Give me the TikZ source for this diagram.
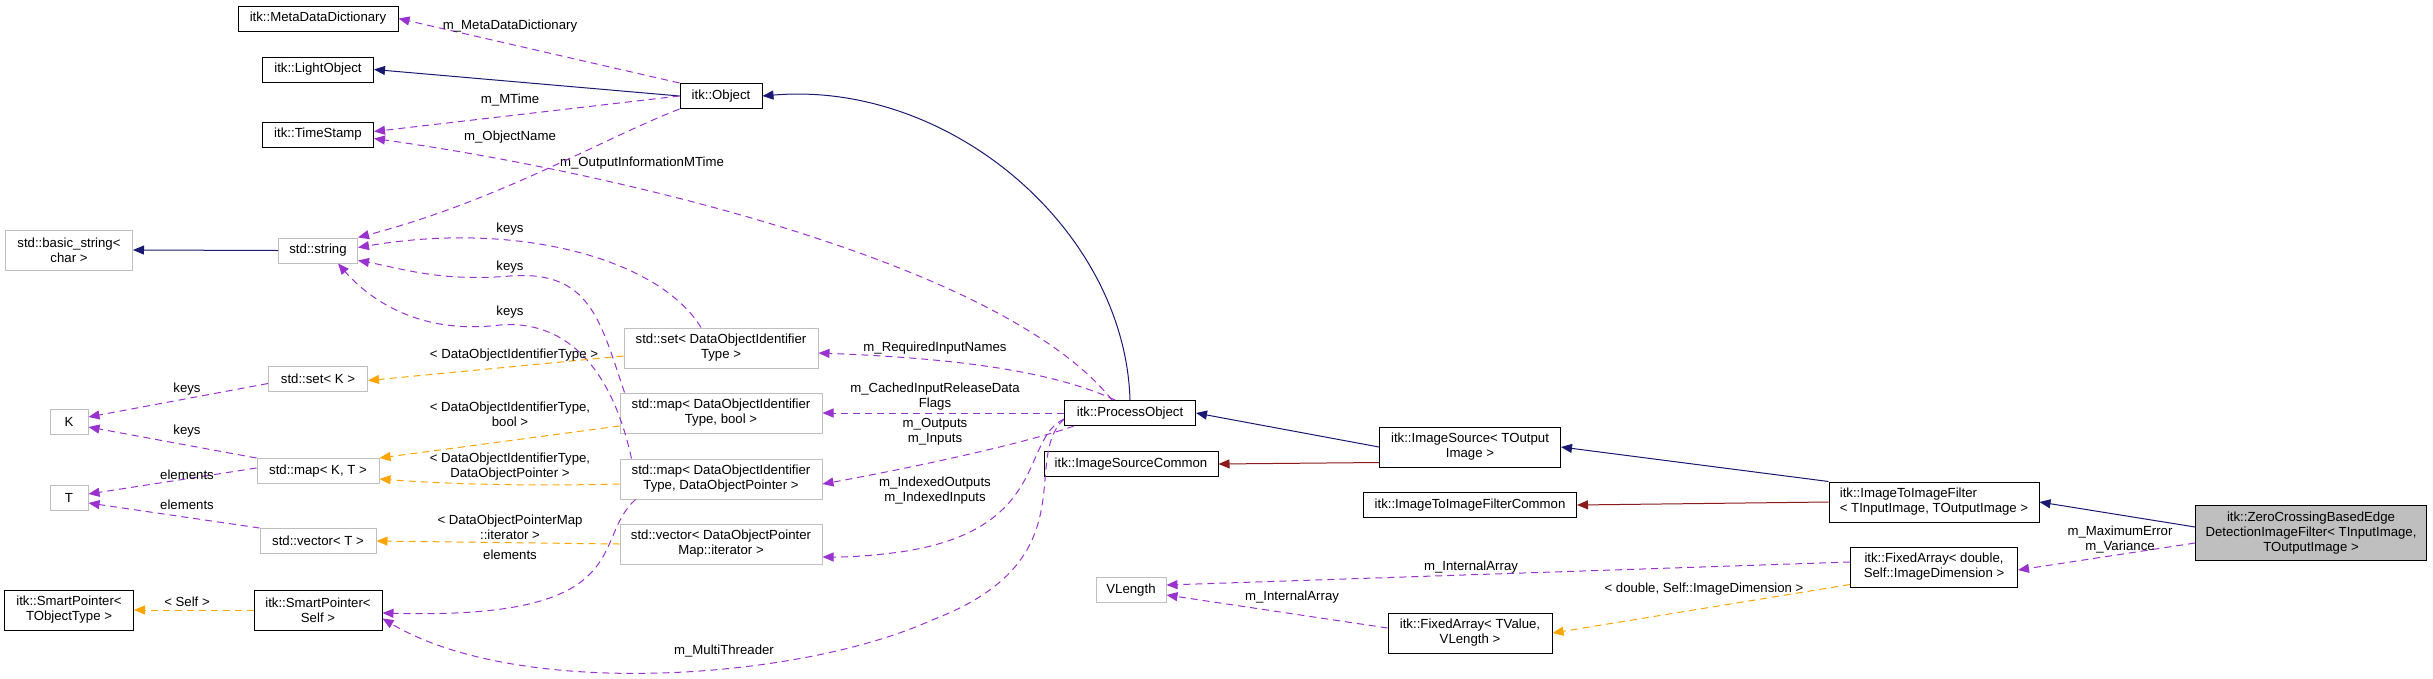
\documentclass[tikz,border=0pt]{standalone}
\usepackage{fontspec}
\setmainfont{Liberation Sans}
\usetikzlibrary{arrows.meta}
\definecolor{inhc}{HTML}{191970}
\definecolor{redc}{HTML}{8B1A1A}
\definecolor{usec}{HTML}{9A32CD}
\definecolor{tplc}{HTML}{FFA500}
\definecolor{greyb}{HTML}{BFBFBF}
\begin{document}
\begin{tikzpicture}[x=1pt,y=-1pt,
  font=\fontsize{13.2}{15}\selectfont,
  box/.style={draw=black,line width=1pt,fill=white,inner sep=2pt,align=center,minimum height=25pt},
  gbox/.style={box,draw=greyb},
  two/.style={minimum height=40pt},
  tip/.style={-{Triangle[length=11pt,width=9pt]}},
  inh/.style={tip,draw=inhc,line width=1pt},
  red/.style={tip,draw=redc,line width=1pt},
  use/.style={tip,draw=usec,dash pattern=on 7pt off 5pt,line width=1pt},
  tpl/.style={tip,draw=tplc,dash pattern=on 7pt off 5pt,line width=1pt},
  lab/.style={align=center,inner sep=0pt}]
\useasboundingbox (0,0) rectangle (2433,678);
% nodes
\node[box,minimum width=160pt] (mdd) at (318,18.5) {itk::MetaDataDictionary};
\node[box,minimum width=111pt] (lo) at (318,69.5) {itk::LightObject};
\node[box,minimum width=111pt] (ts) at (318,134.5) {itk::TimeStamp};
\node[box,minimum width=82pt] (obj) at (721,96) {itk::Object};
\node[gbox,two,minimum width=127pt] (bs) at (69,250) {std::basic\_string<\\char >};
\node[gbox,minimum width=79pt] (str) at (318,250.5) {std::string};
\node[gbox,minimum width=99pt] (setk) at (318,378.5) {std::set< K >};
\node[gbox,minimum width=38pt] (k) at (69,422) {K};
\node[gbox,minimum width=122pt] (mapkt) at (318,471) {std::map< K, T >};
\node[gbox,minimum width=38pt] (t) at (69,498) {T};
\node[gbox,minimum width=116pt] (vect) at (318,541) {std::vector< T >};
\node[box,two,minimum width=129pt] (spt) at (69,610) {itk::SmartPointer<\\TObjectType >};
\node[box,two,minimum width=128pt] (sps) at (318,610) {itk::SmartPointer<\\Self >};
\node[gbox,two,minimum width=194pt] (setd) at (721,348) {std::set< DataObjectIdentifier\\Type >};
\node[gbox,two,minimum width=202pt] (mapb) at (721,413) {std::map< DataObjectIdentifier\\Type, bool >};
\node[gbox,two,minimum width=202pt] (mapp) at (721,479) {std::map< DataObjectIdentifier\\Type, DataObjectPointer >};
\node[gbox,two,minimum width=202pt] (vecd) at (721,544) {std::vector< DataObjectPointer\\Map::iterator >};
\node[box,minimum width=131pt] (po) at (1130,413) {itk::ProcessObject};
\node[box,minimum width=174pt] (isc) at (1131,464) {itk::ImageSourceCommon};
\node[gbox,minimum width=70pt] (vl) at (1131,590) {VLength};
\node[box,two,minimum width=181pt] (is) at (1470,447) {itk::ImageSource< TOutput\\Image >};
\node[box,minimum width=213pt] (ifc) at (1470,505) {itk::ImageToImageFilterCommon};
\node[box,two,minimum width=210pt,align=left] (iif) at (1934,502) {itk::ImageToImageFilter\\< TInputImage, TOutputImage >};
\node[box,minimum width=231pt,minimum height=55pt,fill=greyb] (zc) at (2311,533) {itk::ZeroCrossingBasedEdge\\DetectionImageFilter< TInputImage,\\TOutputImage >};
\node[box,two,minimum width=167pt] (fad) at (1934,567) {itk::FixedArray< double,\\Self::ImageDimension >};
\node[box,two,minimum width=164pt] (fav) at (1470,633) {itk::FixedArray< TValue,\\VLength >};
% inheritance
\draw[inh] (str.west) -- (bs.east);
\draw[inh] (obj.west) -- (lo.east);
\draw[inh] (po.north) .. controls (1125,230) and (950,80) .. (obj.east);
\draw[inh] (is.west) -- (po.east);
\draw[inh] (iif.north west) -- (is.east);
\draw[inh] ([yshift=6pt]zc.west) -- (iif.east);
\draw[red] ([yshift=5pt]is.south west) -- (isc.east);
\draw[red] (iif.west) -- (ifc.east);
% usage
\draw[use] (obj.north west) -- (mdd.east);
\node[lab] (l1) at (510,26) {m\_MetaDataDictionary};
\draw[use] (obj.west) -- ([yshift=3pt]ts.east);
\node[lab] (l2) at (510,100) {m\_MTime};
\draw[use] ([xshift=-18pt]po.north) .. controls (1000,260) and (600,170) .. ([yshift=-4pt]ts.east);
\node[lab] (l3) at (642,163) {m\_OutputInformationMTime};
\draw[use] (obj.south west) .. controls (600,140) and (500,200) .. (str.north east);
\node[lab] (l4) at (510,137) {m\_ObjectName};
\draw[use] ([xshift=-20pt]setd.north) .. controls (660,260) and (520,220) .. ([yshift=3pt]str.east);
\node[lab] (l5) at (510,229) {keys};
\draw[use] ([xshift=5pt]mapb.north west) .. controls (600,320) and (590,270) .. (510,276) .. controls (440,282) and (400,268) .. ([yshift=-10pt]str.east);
\node[lab] (l6) at (510,267) {keys};
\draw[use] ([xshift=12pt]mapp.north west) .. controls (610,360) and (560,320) .. (500,325) .. controls (420,335) and (370,300) .. ([xshift=20pt]str.south);
\node[lab] (l7) at (510,312) {keys};
\draw[use] ([xshift=16pt]mapp.south west) .. controls (590,540) and (640,620) .. ([yshift=-3pt]sps.east);
\node[lab] (l8) at (510,555) {elements};
\draw[use] ([yshift=-5pt]setk.west) -- ([yshift=5pt]k.east);
\node[lab] (l9) at (187,389) {keys};
\draw[use] (mapkt.north west) -- ([yshift=-5pt]k.east);
\node[lab] (l10) at (187,431) {keys};
\draw[use] ([yshift=3pt]mapkt.west) -- ([yshift=4pt]t.east);
\node[lab] (l11) at (187,475) {elements};
\draw[use] (vect.north west) -- ([yshift=-5pt]t.east);
\node[lab] (l12) at (187,505) {elements};
% templates
\draw[tpl] ([yshift=-8pt]setd.west) -- ([yshift=-2pt]setk.east);
\node[lab] (l13) at (514,355) {< DataObjectIdentifierType >};
\draw[tpl] ([yshift=-13pt]mapb.west) -- (mapkt.north east);
\node[lab] (l14) at (510,414) {< DataObjectIdentifierType,\\bool >};
\draw[tpl] ([yshift=-5pt]mapp.west) .. controls (500,487) and (420,482) .. ([yshift=-8pt]mapkt.east);
\node[lab] (l15) at (510,467) {< DataObjectIdentifierType,\\DataObjectPointer >};
\draw[tpl] (vecd.west) -- (vect.east);
\node[lab] (l16) at (510,527) {< DataObjectPointerMap\\::iterator >};
\draw[tpl] (sps.west) -- (spt.east);
\node[lab] (l17) at (187,602) {< Self >};
% process object members
\draw[use] ([xshift=-15pt]po.north) .. controls (1050,370) and (950,358) .. ([yshift=-5pt]setd.east);
\node[lab] (l18) at (935,348) {m\_RequiredInputNames};
\draw[use] (po.west) -- (mapb.east);
\node[lab] (l19) at (935,397) {m\_CachedInputReleaseData\\Flags};
\draw[use] ([xshift=10pt]po.south west) .. controls (1020,445) and (900,470) .. ([yshift=-5pt]mapp.east);
\node[lab] (l20) at (935,432) {m\_Outputs\\m\_Inputs};
\draw[use] ([yshift=-6pt]po.west) .. controls (1020,440) and (1050,530) .. (900,552) .. controls (870,556) and (850,557) .. ([yshift=-13pt]vecd.east);
\node[lab] (l21) at (935,491) {m\_IndexedOutputs\\m\_IndexedInputs};
\draw[use] ([yshift=-6pt]po.west) .. controls (1020,460) and (1090,560) .. (932,620) .. controls (800,680) and (520,700) .. ([yshift=12pt]sps.south east);
\node[lab] (l22) at (724,651) {m\_MultiThreader};
% fixed arrays
\draw[use] ([yshift=-10pt]zc.west) -- ([yshift=-3pt]fad.east);
\node[lab] (l23) at (2120,540) {m\_MaximumError\\m\_Variance};
\draw[use] ([yshift=5pt]fad.west) -- ([yshift=5pt]vl.east);
\node[lab] (l24) at (1471,567) {m\_InternalArray};
\draw[use] ([yshift=5pt]fav.west) -- ([yshift=-5pt]vl.east);
\node[lab] (l25) at (1292,597) {m\_InternalArray};
\draw[tpl] ([yshift=3pt]fad.south west) -- (fav.east);
\node[lab] (l26) at (1704,589) {< double, Self::ImageDimension >};
\end{tikzpicture}
\end{document}
